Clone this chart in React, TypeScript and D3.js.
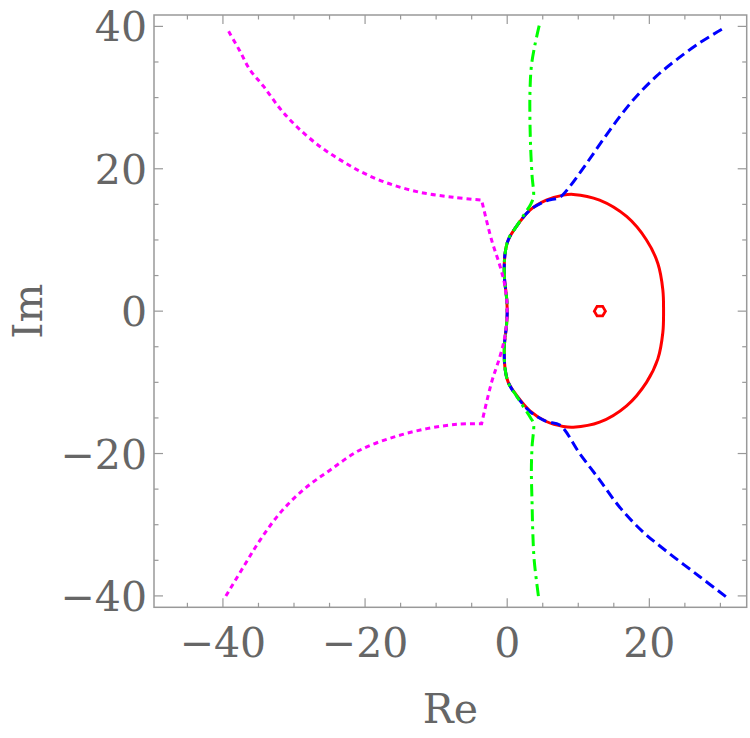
import React from 'react';
import * as d3 from 'd3';

type Pt = [number, number];

// boundary curves in the complex plane (Re, Im)
const redCurve: Pt[] = [
  [0, 0], [-0.1, 2.0], [-0.4, 4.9], [-0.3, 8.1], [0.15, 10.0], [1.3, 11.9], [3.2, 14.2],
  [5.5, 15.6], [7.9, 16.3], [9.3, 16.4], [13.0, 15.6], [16.8, 13.3], [19.6, 10.0],
  [21.2, 6.7], [21.9, 3.0], [22.0, 0], [21.9, -3.0], [21.2, -6.7], [19.6, -10.0],
  [16.8, -13.3], [13.0, -15.6], [9.3, -16.3], [7.9, -16.2], [5.5, -15.5], [3.2, -14.0],
  [1.3, -11.8], [0.15, -10.0], [-0.3, -8.1], [-0.4, -4.9], [-0.1, -2.0],
];

const redIsland: Pt[] = [
  [13.82, 0], [13.43, 0.67], [12.65, 0.67], [12.26, 0], [12.65, -0.67], [13.43, -0.67],
];

const blueCurve: Pt[] = [
  [30.2, 39.6], [27.1, 37.7], [23.8, 35.3], [21.0, 33.0], [18.2, 30.2], [15.9, 27.4],
  [13.5, 24.1], [11.2, 20.8], [8.8, 17.5], [7.4, 16.0], [5.5, 15.5], [3.2, 14.2],
  [1.3, 11.9], [0.15, 10.0], [-0.3, 8.1], [-0.4, 4.9], [-0.1, 2.0], [0, 0],
  [-0.1, -2.0], [-0.4, -4.9], [-0.3, -8.1], [0.15, -10.0], [1.3, -11.9], [3.2, -14.1],
  [5.5, -15.5], [7.4, -16.0], [10.2, -20.0], [13.0, -23.7], [15.8, -27.5], [19.1, -31.0],
  [22.9, -34.1], [27.1, -37.3], [30.9, -40.2],
];

const greenCurve: Pt[] = [
  [4.5, 40.1], [3.9, 37.4], [3.4, 34.4], [3.2, 30.6], [3.2, 26.9], [3.3, 22.9],
  [3.5, 19.0], [3.7, 16.1], [3.3, 15.0], [2.4, 13.6], [1.3, 11.9], [0.2, 10.2],
  [-0.3, 8.1], [-0.4, 4.9], [-0.1, 2.0], [0, 0], [-0.1, -2.0], [-0.4, -4.9],
  [-0.3, -8.1], [0.2, -10.2], [1.3, -11.9], [2.4, -13.6], [3.3, -15.0], [3.7, -15.8],
  [3.5, -19.0], [3.4, -22.3], [3.5, -27.0], [3.6, -31.0], [3.8, -35.0], [4.4, -40.1],
];

// magenta boundary: two smooth arcs joined by a nearly straight piece through the origin
const magentaUpper: Pt[] = [
  [-39.2, 39.3], [-37.6, 36.5], [-36.2, 33.9], [-34.3, 31.6], [-32.0, 28.5], [-29.6, 25.9],
  [-26.3, 23.1], [-23.1, 21.0], [-19.8, 19.2], [-16.0, 17.7], [-11.8, 16.6], [-7.6, 16.0],
  [-3.6, 15.6],
];
const magentaMiddle: Pt[] = [
  [-3.6, 15.6], [-2.2, 10.0], [-1.0, 6.3], [-0.3, 3.4], [0, 0], [-0.3, -3.4],
  [-1.0, -6.3], [-2.2, -10.0], [-3.6, -15.8],
];
const magentaLower: Pt[] = [
  [-3.6, -15.8], [-7.1, -15.9], [-11.3, -16.5], [-16.0, -17.7], [-20.7, -19.5],
  [-24.9, -22.3], [-28.7, -25.1], [-32.0, -28.4], [-34.8, -32.2], [-37.1, -35.9],
  [-39.7, -40.2],
];

const xTicks = [-40, -20, 0, 20];
const yTicks = [-40, -20, 0, 20, 40];

const W = 750;
const H = 738;
const FRAME = '#999999';
const TEXT = '#666666';
const FONT = '"DejaVu Serif", serif';

const App = () => {
  const x = d3.scaleLinear().domain([-49.7, 33.7]).range([154, 746.7]);
  const y = d3.scaleLinear().domain([-41.6, 41.6]).range([607.3, 15]);
  const [x0, x1] = x.range();
  const [y0, y1] = y.range();

  const smooth = d3.line<Pt>().x(d => x(d[0])).y(d => y(d[1])).curve(d3.curveCatmullRom.alpha(0.5));
  const closed = d3.line<Pt>().x(d => x(d[0])).y(d => y(d[1])).curve(d3.curveCatmullRomClosed.alpha(0.5));
  const polyClosed = d3.line<Pt>().x(d => x(d[0])).y(d => y(d[1])).curve(d3.curveLinearClosed);

  // join the three magenta pieces into one path so the dash pattern runs on
  const magentaPath =
    (smooth(magentaUpper) ?? '') +
    (smooth(magentaMiddle) ?? '').replace(/^M/, 'L') +
    (smooth(magentaLower) ?? '').replace(/^M/, 'L');

  const minorX = d3.range(-45, 34, 5);
  const minorY = d3.range(-40, 41, 5);
  const fmt = (v: number) => (v < 0 ? '\u2212' + Math.abs(v) : String(v));

  return (
    <svg width={W} height={H} style={{ position: 'absolute', left: 0, top: 0, background: '#fff' }}>
      <defs>
        <clipPath id="plot">
          <rect x={x0} y={y1} width={x1 - x0} height={y0 - y1} />
        </clipPath>
      </defs>

      {/* ticks on all four sides */}
      <g stroke={FRAME} strokeWidth={1.2}>
        {minorX.map(v => {
          const len = v % 20 === 0 ? 9 : 4.5;
          return (
            <g key={'x' + v}>
              <line x1={x(v)} x2={x(v)} y1={y0} y2={y0 - len} />
              <line x1={x(v)} x2={x(v)} y1={y1} y2={y1 + len} />
            </g>
          );
        })}
        {minorY.map(v => {
          const len = v % 20 === 0 ? 9 : 4.5;
          return (
            <g key={'y' + v}>
              <line x1={x0} x2={x0 + len} y1={y(v)} y2={y(v)} />
              <line x1={x1} x2={x1 - len} y1={y(v)} y2={y(v)} />
            </g>
          );
        })}
      </g>
      <rect x={x0} y={y1} width={x1 - x0} height={y0 - y1} fill="none" stroke={FRAME} strokeWidth={1.5} />

      <g clipPath="url(#plot)" fill="none" strokeWidth={3}>
        <path d={closed(redCurve) ?? ''} stroke="#ff0000" />
        <path d={polyClosed(redIsland) ?? ''} stroke="#ff0000" strokeWidth={2.8} />
        <path d={smooth(blueCurve) ?? ''} stroke="#0000ff" strokeDasharray="10 5" />
        <path d={smooth(greenCurve) ?? ''} stroke="#00ff00" strokeDasharray="12 5 3 5" />
        <path d={magentaPath} stroke="#ff00ff" strokeDasharray="5 4" />
      </g>

      <g fontFamily={FONT} fontSize={41} fill={TEXT}>
        {xTicks.map(v => (
          <text key={'xl' + v} x={x(v)} y={656.7} textAnchor="middle">{fmt(v)}</text>
        ))}
        {yTicks.map(v => (
          <text key={'yl' + v} x={147} y={y(v) + 15} textAnchor="end">{fmt(v)}</text>
        ))}
        <text x={(x0 + x1) / 2} y={722.7} textAnchor="middle">Re</text>
        <text transform={`translate(42,${(y0 + y1) / 2}) rotate(-90)`} textAnchor="middle">Im</text>
      </g>
    </svg>
  );
};

export default App;
